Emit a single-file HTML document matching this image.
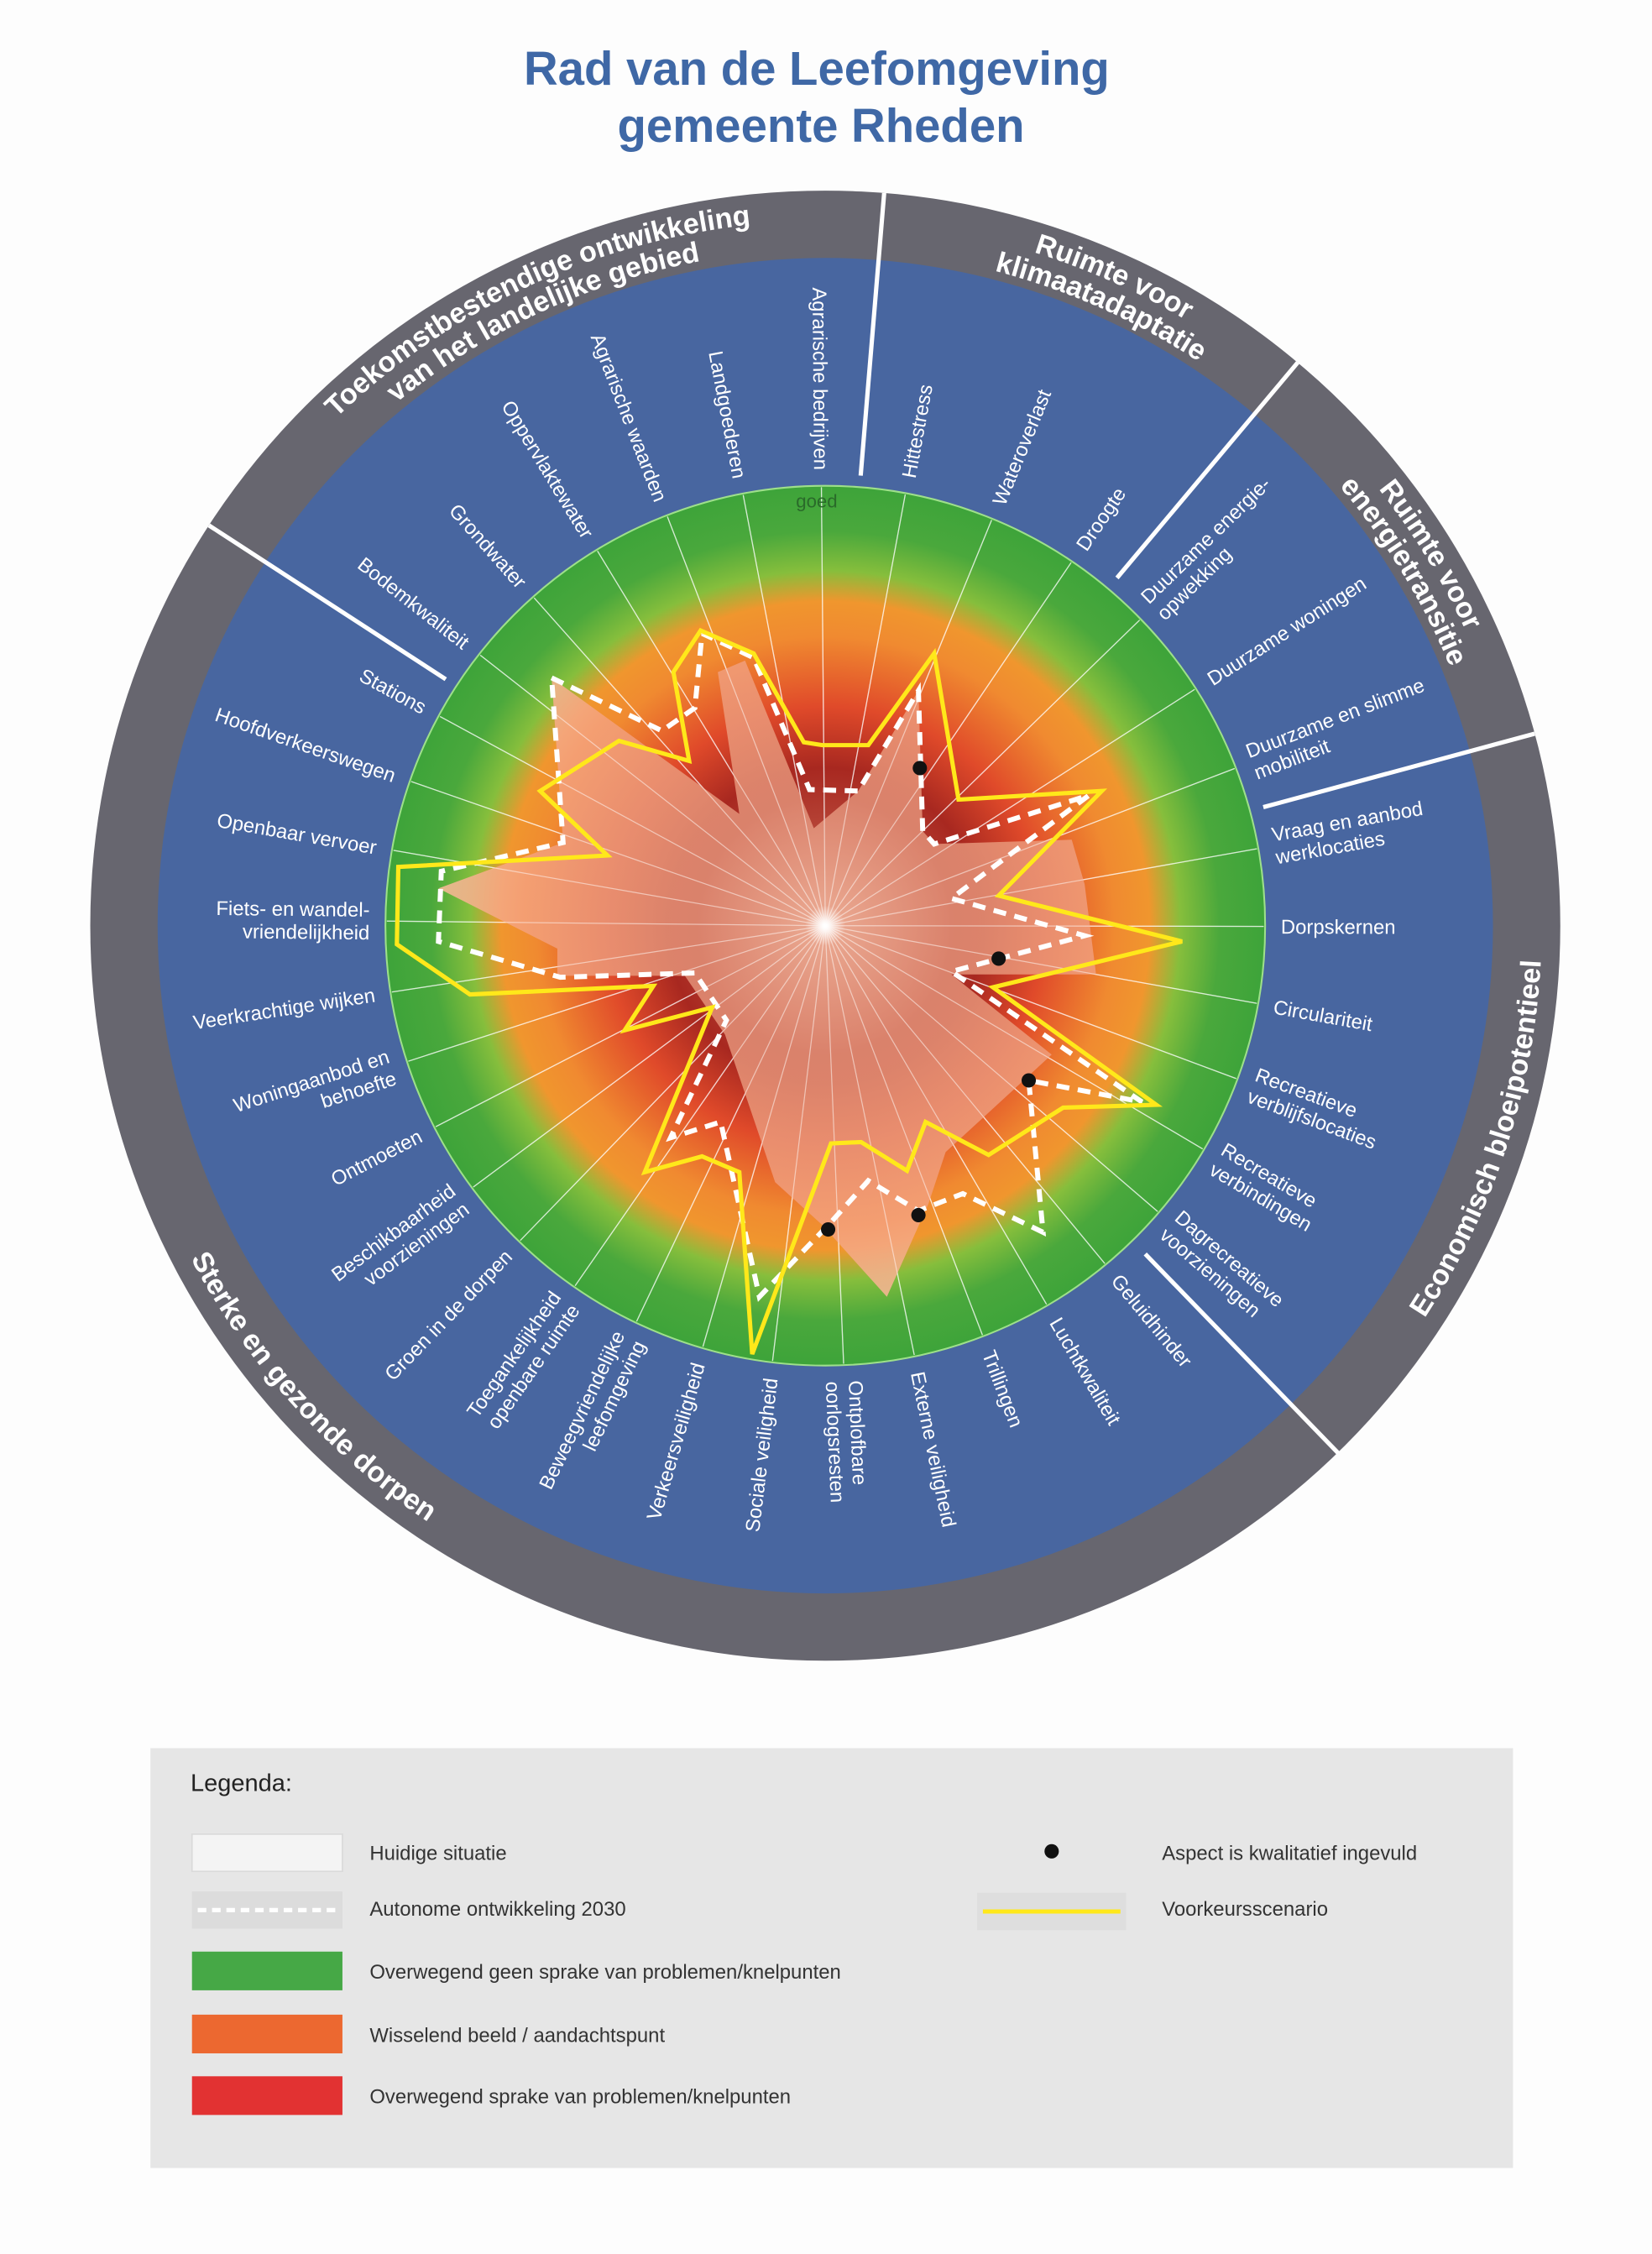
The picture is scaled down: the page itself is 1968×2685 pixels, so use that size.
<!DOCTYPE html>
<html><head><meta charset="utf-8"><style>
html,body{margin:0;padding:0;background:#fdfdfd;}
svg{display:block;}
text{font-family:"Liberation Sans",sans-serif;}
</style></head><body>
<svg xmlns="http://www.w3.org/2000/svg" width="1968" height="2685" viewBox="0 0 1153 1573">
<defs>
<radialGradient id="bg" cx="576" cy="646" r="306" gradientUnits="userSpaceOnUse">
<stop offset="0" stop-color="#c87a66"/>
<stop offset="0.2" stop-color="#b8483a"/>
<stop offset="0.36" stop-color="#a82820"/>
<stop offset="0.5" stop-color="#e04a2a"/>
<stop offset="0.66" stop-color="#f08a30"/>
<stop offset="0.74" stop-color="#f0962e"/>
<stop offset="0.81" stop-color="#86be3c"/>
<stop offset="0.9" stop-color="#4aa83c"/>
<stop offset="1" stop-color="#3ea43a"/>
</radialGradient>
<radialGradient id="sal" cx="576" cy="646" r="300" gradientUnits="userSpaceOnUse">
<stop offset="0" stop-color="#f0b29a"/>
<stop offset="0.3" stop-color="#e08c74"/>
<stop offset="0.7" stop-color="#f4a07a"/>
<stop offset="1" stop-color="#f8c8a8"/>
</radialGradient>
<radialGradient id="glow" cx="576" cy="646" r="14" gradientUnits="userSpaceOnUse">
<stop offset="0" stop-color="#fff"/>
<stop offset="1" stop-color="#fff" stop-opacity="0"/>
</radialGradient>
<path id="pTop1" d=""/>
<path id="pTop2" d=""/>
<path id="pKl1" d=""/>
<path id="pKl2" d=""/>
<path id="pEn1" d=""/>
<path id="pEn2" d=""/>
<path id="pEc" d=""/>
<path id="pDo" d=""/>
</defs>

<text x="570" y="59" text-anchor="middle" font-size="33" font-weight="bold" fill="#3f68a6">Rad van de Leefomgeving</text>
<text x="573" y="99" text-anchor="middle" font-size="33" font-weight="bold" fill="#3f68a6">gemeente Rheden</text>

<circle cx="576" cy="646" r="513" fill="#67666f"/>
<circle cx="576" cy="646" r="466" fill="#4866a0"/>
<circle cx="576" cy="646" r="307" fill="url(#bg)" stroke="#9ee08a" stroke-width="1.2"/>

<g stroke="#fff" stroke-width="3">
<line x1="600.7" y1="331.9" x2="617.1" y2="134.7"/>
<line x1="779.6" y1="403.3" x2="905.7" y2="253.0"/>
<line x1="881.7" y1="563.3" x2="1071.1" y2="512.0"/>
<line x1="799.3" y1="875.1" x2="933.9" y2="1014.0"/>
<line x1="311.1" y1="474.0" x2="145.8" y2="366.6"/>
</g>

<g id="spokes" stroke="#ffffff" stroke-opacity="0.6" stroke-width="0.8"></g>

<polygon fill="url(#sal)" fill-opacity="0.88" points="385,473 516,568 501,469 520,461 568,578 599,552 641,482 644,580 652,589 748,586 757,617 765,680 664,680 734,736 660,804 648,840 619,905 574,855 541,825 506,722 478,681 389,681 389,662 306,620 393,588"/>
<g id="spokes2" stroke="#ffffff" stroke-opacity="0.45" stroke-width="0.7"></g>
<circle cx="576" cy="646" r="14" fill="url(#glow)"/>

<polyline fill="none" stroke="#fff" stroke-width="3.5" stroke-dasharray="9,6" points="385,473 462,510 485,494 490,442 526,459 565,551 599,552 641,482 644,580 652,589 760,555 664,627 757,653 664,678 797,769 718,754 728,860 672,833 641,845 606,824 579,854 530,905 503,783 468,794 507,712 485,679 391,682 306,657 308,608 393,588 385,473"/>
<polygon fill="none" stroke="#ffe81a" stroke-width="3" stroke-linejoin="miter" points="574,520 606,520 652,456 669,558 769,552 697,625 825,657 693,689 807,771 742,773 690,806 646,783 633,817 601,797 580,798 525,945 516,818 490,807 450,818 497,703 436,719 456,688 328,694 277,659 278,605 424,597 377,552 432,517 481,531 470,469 489,440 526,456 561,518"/>
<g fill="#111"><circle cx="642" cy="536" r="5"/><circle cx="697" cy="669" r="5"/><circle cx="718" cy="754" r="5"/><circle cx="641" cy="848" r="5"/><circle cx="578" cy="858" r="5"/></g>

<text x="570" y="354" text-anchor="middle" font-size="13" fill="#2a6a2a">goed</text>

<g id="labels" font-size="14" fill="#fff"></g>

<g font-size="20" font-weight="bold" fill="#fff">
<text><textPath href="#pTop1" startOffset="50%" text-anchor="middle">Toekomstbestendige ontwikkeling</textPath></text>
<text><textPath href="#pTop2" startOffset="50%" text-anchor="middle">van het landelijke gebied</textPath></text>
<text><textPath href="#pKl1" startOffset="50%" text-anchor="middle">Ruimte voor</textPath></text>
<text><textPath href="#pKl2" startOffset="50%" text-anchor="middle">klimaatadaptatie</textPath></text>
<text><textPath href="#pEn1" startOffset="50%" text-anchor="middle">Ruimte voor</textPath></text>
<text><textPath href="#pEn2" startOffset="50%" text-anchor="middle">energietransitie</textPath></text>
<text><textPath href="#pEc" startOffset="50%" text-anchor="middle">Economisch bloeipotentieel</textPath></text>
<text><textPath href="#pDo" startOffset="50%" text-anchor="middle">Sterke en gezonde dorpen</textPath></text>
</g>

<rect x="105" y="1220" width="951" height="293" fill="#e6e6e6"/>
<text x="133" y="1250" font-size="17" fill="#222">Legenda:</text>
<rect x="134" y="1280" width="105" height="26" fill="#f4f4f4" stroke="#dadada"/>
<rect x="134" y="1320" width="105" height="26" fill="#dcdcdc"/>
<line x1="138" y1="1333" x2="236" y2="1333" stroke="#fff" stroke-width="3" stroke-dasharray="6,4"/>
<rect x="134" y="1362" width="105" height="27" fill="#46a846"/>
<rect x="134" y="1406" width="105" height="27" fill="#ec6830"/>
<rect x="134" y="1449" width="105" height="27" fill="#e23232"/>
<g font-size="14" fill="#333">
<text x="258" y="1298">Huidige situatie</text>
<text x="258" y="1337">Autonome ontwikkeling 2030</text>
<text x="258" y="1381">Overwegend geen sprake van problemen/knelpunten</text>
<text x="258" y="1425">Wisselend beeld / aandachtspunt</text>
<text x="258" y="1468">Overwegend sprake van problemen/knelpunten</text>
<text x="811" y="1298">Aspect is kwalitatief ingevuld</text>
<text x="811" y="1337">Voorkeursscenario</text>
</g>
<circle cx="734" cy="1292" r="5" fill="#111"/>
<rect x="682" y="1321" width="104" height="26" fill="#dedede"/>
<line x1="686" y1="1334" x2="782" y2="1334" stroke="#ffe81a" stroke-width="3"/>

<script>
(function(){
var ns="http://www.w3.org/2000/svg",cx=576,cy=646;
function P(r,a){a=a*Math.PI/180;return (cx+r*Math.sin(a)).toFixed(1)+" "+(cy-r*Math.cos(a)).toFixed(1);}
function arc(id,r,a1,a2,cw){var d=cw?("M "+P(r,a1)+" A "+r+" "+r+" 0 0 1 "+P(r,a2)):("M "+P(r,a2)+" A "+r+" "+r+" 0 0 0 "+P(r,a1));document.getElementById(id).setAttribute("d",d);}
arc("pTop1",492,290,380,true);
arc("pTop2",472,290,380,true);
arc("pKl1",492,-19,67,true);
arc("pKl2",472,-19,67,true);
arc("pEn1",492,16,101,true);
arc("pEn2",472,16,101,true);
arc("pEc",500,58,158,false);
arc("pDo",500,173,283,false);
var L=[[10.5,["Hittestress"]],[22.3,["Wateroverlast"]],[34.1,["Droogte"]],
[45.8,["Duurzame energie-","opwekking"]],[57.4,["Duurzame woningen"]],[69,["Duurzame en slimme","mobiliteit"]],
[79.9,["Vraag en aanbod","werklocaties"]],[90.1,["Dorpskernen"]],[100.2,["Circulariteit"]],[110.4,["Recreatieve","verblijfslocaties"]],[120.6,["Recreatieve","verbindingen"]],[130.7,["Dagrecreatieve","voorzieningen"]],
[140.4,["Geluidhinder"]],[149.7,["Luchtkwaliteit"]],[159,["Trillingen"]],[168.3,["Externe veiligheid"]],[177.6,["Ontplofbare","oorlogsresten"]],
[186.9,["Sociale veiligheid"]],[196.2,["Verkeersveiligheid"]],[205.5,["Beweegvriendelijke","leefomgeving"]],[214.8,["Toegankelijkheid","openbare ruimte"]],[224.1,["Groen in de dorpen"]],[233.4,["Beschikbaarheid","voorzieningen"]],[242.7,["Ontmoeten"]],[252,["Woningaanbod en","behoefte"]],[261.3,["Veerkrachtige wijken"]],[270.6,["Fiets- en wandel-","vriendelijkheid"]],[279.9,["Openbaar vervoer"]],[289.2,["Hoofdverkeerswegen"]],[298.5,["Stations"]],
[308.1,["Bodemkwaliteit"]],[318.4,["Grondwater"]],[328.7,["Oppervlaktewater"]],[338.9,["Agrarische waarden"]],[349.2,["Landgoederen"]],[359.5,["Agrarische bedrijven"]]];
var sp=document.getElementById("spokes"),sp2=document.getElementById("spokes2"),lg=document.getElementById("labels");
L.forEach(function(it){
 var a=it[0]*Math.PI/180,x=cx+306*Math.sin(a),y=cy-306*Math.cos(a);
 [sp,sp2].forEach(function(g){var l=document.createElementNS(ns,"line");l.setAttribute("x1",cx);l.setAttribute("y1",cy);l.setAttribute("x2",x.toFixed(1));l.setAttribute("y2",y.toFixed(1));g.appendChild(l);});
 var g=document.createElementNS(ns,"g"),right=it[0]<180;
 g.setAttribute("transform","translate("+cx+","+cy+") rotate("+(right?it[0]-90:it[0]+90)+")");
 var lines=it[1];
 lines.forEach(function(s,i){
  var t=document.createElementNS(ns,"text");
  t.setAttribute("x",right?318:-318);
  var yy=lines.length==1?5:(i==0?-3:13);
  t.setAttribute("y",yy);
  if(!right)t.setAttribute("text-anchor","end");
  t.textContent=s;g.appendChild(t);
 });
 lg.appendChild(g);
});
})();
</script>
</svg>
</body></html>
